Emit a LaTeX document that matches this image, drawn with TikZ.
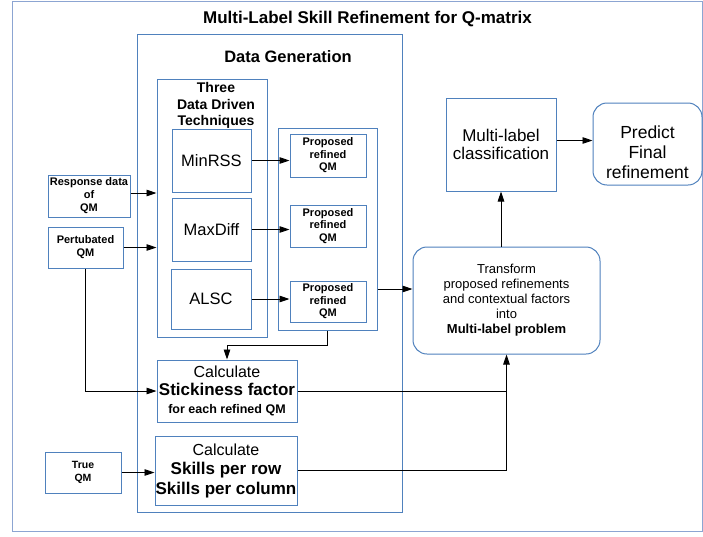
\documentclass[tikz,border=0pt]{standalone}
\usepackage{fontspec}
\setmainfont{Liberation Sans}
\usetikzlibrary{arrows.meta,calc}
\definecolor{boxc}{RGB}{79,129,189}
\definecolor{framec}{RGB}{140,165,210}
\newcommand{\fsz}[2]{\fontsize{#1}{#2}\selectfont}
\begin{document}
\begin{tikzpicture}[x=1pt,y=-1pt,
  box/.style={draw=boxc, line width=1pt, inner sep=0pt, align=center, anchor=center},
  rbox/.style={box, rounded corners=14pt},
  arr/.style={draw=black, line width=0.9pt, -{Triangle[length=10pt,width=6.5pt]}},
  ln/.style={draw=black, line width=0.9pt}]
\useasboundingbox (0,0) rectangle (703,536);
\fill[white] (0,0) rectangle (703,536);

% outer frame and title
\node[box, draw=framec, minimum width=690, minimum height=530] (frame) at (357,266) {};
\node[font={\bfseries\fsz{17}{20}}] (title) at (367.5,19) {Multi-Label Skill Refinement for Q-matrix};

% data generation
\node[box, minimum width=265, minimum height=478] (dg) at (269.5,273) {};
\node[font={\bfseries\fsz{16.5}{20}}] (dgtitle) at (288,57) {Data Generation};

% techniques
\node[box, minimum width=110, minimum height=258] (tech) at (212,208) {};
\node[font={\bfseries\fsz{14}{16.5}}, align=center] (techtitle) at (216,105.5) {Three\\Data Driven\\Techniques};
\node[box, minimum width=79, minimum height=63, font={\fsz{16.5}{20}}] (minrss) at (211.5,160.5) {MinRSS};
\node[box, minimum width=79, minimum height=63, font={\fsz{16.5}{20}}] (maxdiff) at (211.5,229.5) {MaxDiff};
\node[box, minimum width=80, minimum height=60, font={\fsz{16.5}{20}}] (alsc) at (211,299) {ALSC};

% proposed container
\node[box, minimum width=99, minimum height=202] (cont) at (327.5,229) {};
\node[box, minimum width=76, minimum height=43, font={\bfseries\fsz{11}{12.5}}] (p1) at (328,155.5) {Proposed\\refined\\QM};
\node[box, minimum width=76, minimum height=42, font={\bfseries\fsz{11}{12.5}}] (p2) at (328,226) {Proposed\\refined\\QM};
\node[box, minimum width=76, minimum height=41, font={\bfseries\fsz{11}{12.5}}] (p3) at (328,301.5) {Proposed\\refined\\QM};

% inputs
\node[box, minimum width=82, minimum height=42, font={\bfseries\fsz{11}{13}}] (resp) at (89,196) {Response data\\of\\QM};
\node[box, minimum width=75, minimum height=41, font={\bfseries\fsz{11}{13}}] (pert) at (85.5,247.5) {Pertubated\\QM};
\node[box, minimum width=76, minimum height=41, font={\bfseries\fsz{10.5}{13}}] (trueqm) at (83,472.5) {True\\QM};

% calculations
\node[box, minimum width=140, minimum height=62, font={\fsz{16}{18}}] (stick) at (227,391)
  {Calculate\\{\bfseries\fsz{17}{18}Stickiness factor}\\{\bfseries\fsz{12.5}{18}for each refined QM}};
\node[box, minimum width=142, minimum height=69, font={\fsz{16}{19.5}}] (skills) at (226,470.5)
  {Calculate\\{\bfseries\fsz{17}{19.5}Skills per row}\\{\bfseries\fsz{17}{19.5}Skills per column}};

% right side
\node[rbox, minimum width=187, minimum height=107, font={\fsz{13}{15}}] (trans) at (506.5,300.5)
  {Transform\\proposed refinements\\and contextual factors\\into\\{\bfseries Multi-label problem}};
\node[box, minimum width=110, minimum height=93, font={\fsz{17}{18}}] (mlc) at (501,144.5) {Multi-label\\classification};
\node[rbox, minimum width=109, minimum height=82] (pred) at (647.5,144) {};
\node[font={\fsz{17.5}{20}}, align=center] (predt) at (647.5,152) {Predict\\Final\\refinement};

% connectors
\draw[arr] ([yshift=3pt]resp.east) -- ([yshift=3pt]resp.east -| tech.west);
\draw[arr] (pert.east) -- (pert.east -| tech.west);
\draw[arr] (minrss.east) -- (minrss.east -| p1.west);
\draw[arr] (maxdiff.east) -- (maxdiff.east -| p2.west);
\draw[arr] (alsc.east) -- (alsc.east -| p3.west);
\draw[arr] (cont.south) -- ++(0,15) -| (stick.north);
\draw[arr] (pert.south) |- (stick.west);
\draw[arr] (trueqm.east) -- (trueqm.east -| skills.west);
\draw[ln] (stick.east) -- (stick.east -| trans.south);
\draw[arr] (skills.east) -| (trans.south);
\draw[arr] ([yshift=-60pt]cont.east) -- ([yshift=-60pt]cont.east -| trans.west);
\draw[arr] (mlc.south |- trans.north) -- (mlc.south);
\draw[arr] ([yshift=4pt]mlc.east) -- ([yshift=4pt]mlc.east -| pred.west);
\end{tikzpicture}
\end{document}
